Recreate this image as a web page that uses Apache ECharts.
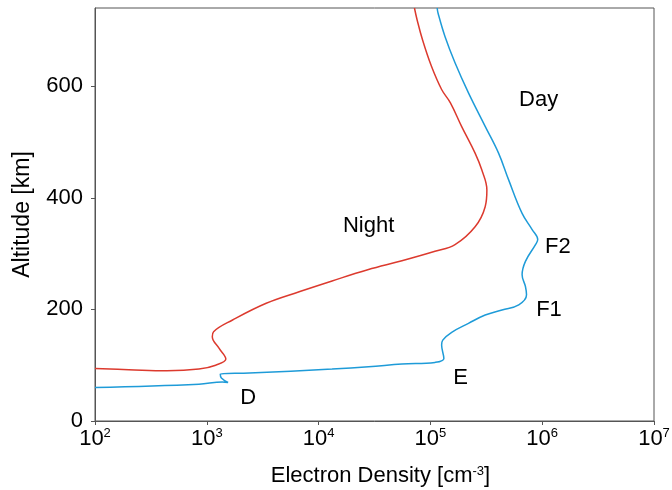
<!DOCTYPE html>
<html><head><meta charset="utf-8">
<script src="https://cdn.jsdelivr.net/npm/echarts@6/dist/echarts.min.js"></script>
<style>html,body{margin:0;padding:0;background:#fff}#c{width:672px;height:490px}</style>
</head><body><div id="c"></div>
<script>
// Night profile: electron density [cm^-3] and altitude [km], ordered along the curve
const nightDensity = [100, 200, 440, 850, 1200, 1480, 1290, 1120, 1150, 1700, 3400, 6800, 13200, 27500, 55600, 110000, 166000, 251000, 309000, 320000, 288000, 251000, 190000, 151000, 126000, 102000, 85000, 76000, 72000];
const nightAlt     = [94, 92, 90, 93, 100, 111, 130, 151, 160, 181, 211, 232, 251, 271, 287, 304, 316, 348, 384, 414, 450, 480, 528, 570, 594, 636, 683, 719, 740];
// Day profile
const dayDensity = [100, 850, 1380, 1550, 1350, 1320, 2400, 13200, 28000, 55600, 110000, 132000, 126000, 129000, 155000, 219000, 309000, 437000, 617000, 724000, 708000, 661000, 708000, 871000, 912000, 813000, 661000, 501000, 407000, 309000, 219000, 166000, 135000, 117000, 115000];
const dayAlt     = [60, 66, 70, 69, 77, 84, 86, 93, 97, 102, 105, 112, 136, 145, 159, 175, 190, 199, 208, 226, 241, 262, 286, 316, 325, 343, 372, 432, 480, 528, 588, 642, 689, 731, 740];
// Region labels
const labelNames   = ['Night', 'Day', 'F2', 'F1', 'E', 'D'];
const labelDensity = [28000, 930000, 1380000, 1150000, 186000, 2350];
const labelAlt     = [350, 576, 312, 199, 78, 41];
const yTicks = [0, 200, 400, 600];

const FONT = 'Liberation Sans, Arial, Helvetica, sans-serif';
const pairs = (xs, ys) => xs.map((x, i) => [x, ys[i]]);

const chart = echarts.init(document.getElementById('c'), null, {renderer: 'canvas'});
chart.setOption({
  animation: false,
  backgroundColor: '#fff',
  grid: {left: 95, right: 18, top: 8, bottom: 69, outerBoundsMode: 'none', containLabel: false,
         show: true, borderColor: '#555', borderWidth: 1, backgroundColor: 'transparent'},
  xAxis: {
    type: 'log', logBase: 10, min: 100, max: 1e7,
    name: 'Electron Density [cm{s|-3}]', nameLocation: 'middle', nameGap: 44,
    nameTextStyle: {color: '#000', fontFamily: FONT, fontSize: 22, padding: [0, 0, 0, 12],
                    rich: {s: {fontSize: 13, verticalAlign: 'top', fontFamily: FONT, color: '#000'}}},
    axisLine: {show: true, lineStyle: {color: '#555', width: 1}},
    axisTick: {show: true, length: 4, lineStyle: {color: '#555'}},
    minorTick: {show: false}, splitLine: {show: false},
    axisLabel: {
      margin: 6, color: '#000', fontFamily: FONT, fontSize: 22,
      formatter: v => '{b|10}{s|' + Math.round(Math.log10(v)) + '}',
      rich: {b: {fontSize: 22, fontFamily: FONT, color: '#000', lineHeight: 24}, s: {fontSize: 13, fontFamily: FONT, color: '#000', verticalAlign: 'top', lineHeight: 24}}
    }
  },
  yAxis: {
    type: 'value', min: 0, max: 740, interval: 200,
    name: 'Altitude [km]', nameLocation: 'middle', nameGap: 61,
    nameTextStyle: {color: '#000', fontFamily: FONT, fontSize: 23},
    axisLine: {show: true, lineStyle: {color: '#555', width: 1}},
    axisTick: {show: true, length: 4, lineStyle: {color: '#555'}},
    splitLine: {show: false},
    axisLabel: {margin: 12, color: '#000', fontFamily: FONT, fontSize: 22, showMaxLabel: false,
      formatter: v => yTicks.includes(v) ? String(v) : ''}
  },
  series: [
    {type: 'line', name: 'Night', data: pairs(nightDensity, nightAlt), smooth: 0.4, showSymbol: false,
     lineStyle: {color: '#dc3a2e', width: 1.5}, clip: true},
    {type: 'line', name: 'Day', data: pairs(dayDensity, dayAlt), smooth: 0.4, showSymbol: false,
     lineStyle: {color: '#1e9bd8', width: 1.5}, clip: true},
    {type: 'scatter', symbolSize: 0, itemStyle: {opacity: 1},
     data: pairs(labelDensity, labelAlt).map((p, i) => ({value: p, name: labelNames[i]})),
     label: {show: true, position: 'inside', formatter: p => p.name, color: '#000', opacity: 1, textBorderWidth: 0,
             fontFamily: FONT, fontSize: 22},
     silent: true}
  ]
});
</script></body></html>
